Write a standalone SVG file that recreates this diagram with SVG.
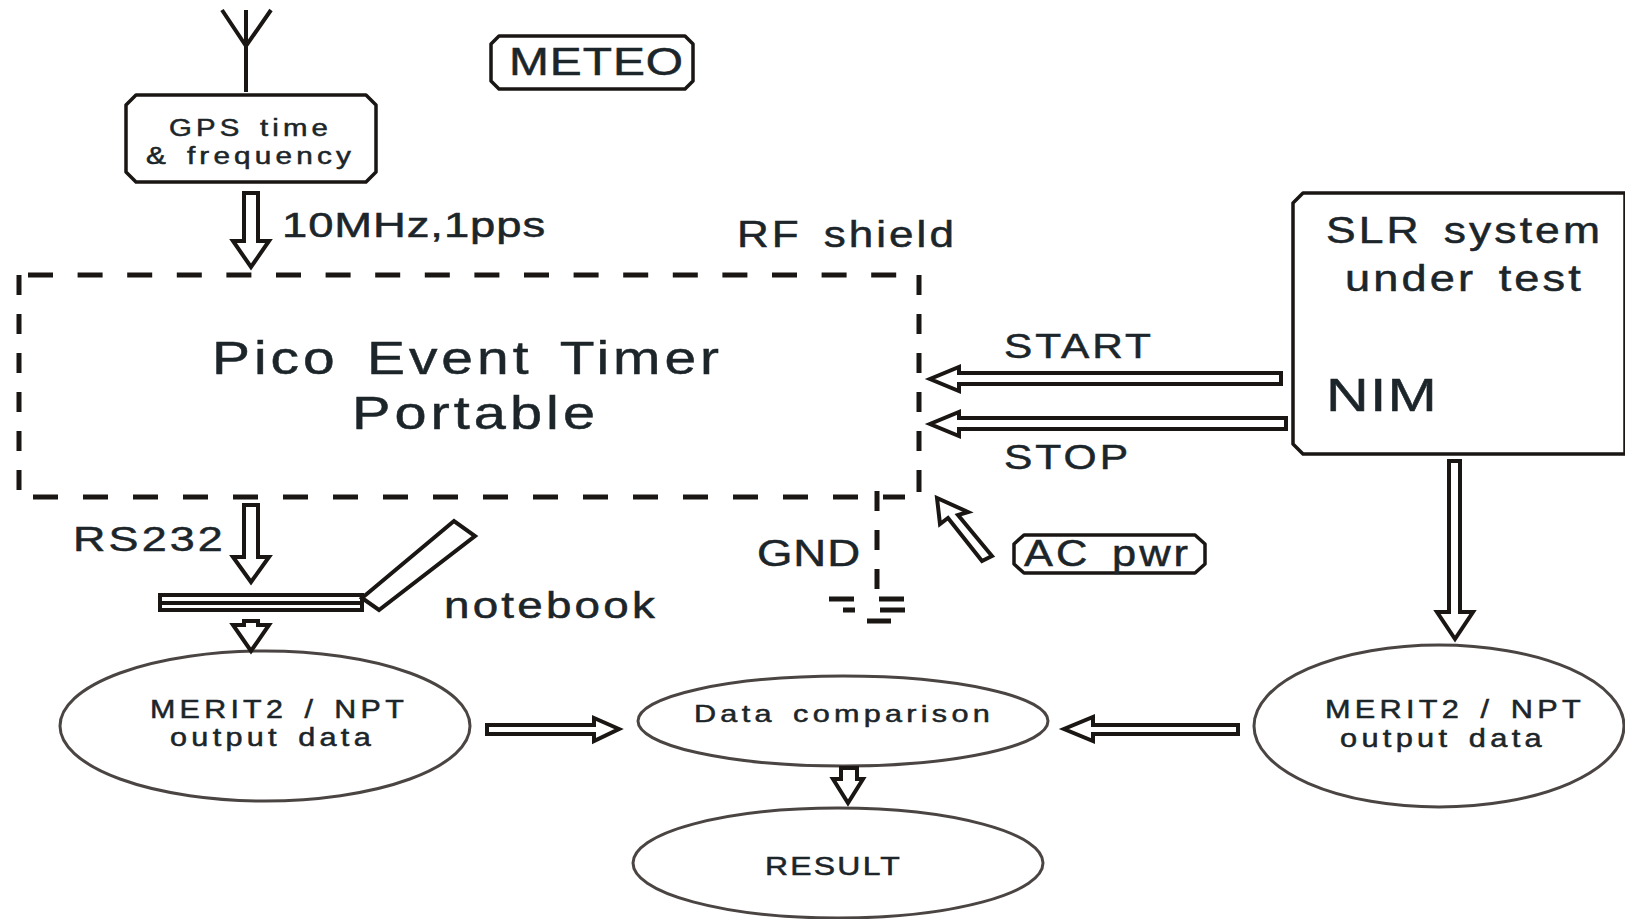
<svg xmlns="http://www.w3.org/2000/svg" width="1625" height="919" viewBox="0 0 1625 919">
<style>
.l{fill:#fff;stroke:#1a1614;stroke-width:4;stroke-linejoin:miter}
.b{fill:#fff;stroke:#1a1614;stroke-width:3.5;stroke-linejoin:round}
.e{fill:#fff;stroke:#4a4543;stroke-width:3}
.s{fill:none;stroke:#1a1614;stroke-width:4}
.d{fill:none;stroke:#1a1614;stroke-width:5}
text{font-family:"Liberation Sans",Arial,sans-serif;fill:#1c2529;stroke:#1c2529;stroke-width:.5;letter-spacing:.07em;word-spacing:.15em}
.w{letter-spacing:.14em;word-spacing:.15em}
.t{letter-spacing:.02em}
</style>
<rect width="1625" height="919" fill="#fff"/>
<g id="rf-shield">
<path class="d" d="M28 275H919" stroke-dasharray="25 24.6"/>
<path class="d" d="M33 497H905" stroke-dasharray="25 25"/>
<path class="d" d="M19 295V275M19 314V334M19 353V373M19 392V412M19 431V451M19 470V490"/>
<path class="d" d="M919 275V295M919 314V334M919 353V373M919 392V412M919 431V451M919 470V492"/>
<text x="737" y="247" font-size="36" textLength="220" lengthAdjust="spacingAndGlyphs">RF shield</text>
</g>
<g id="antenna"><path class="s" d="M246 10V92M222 10L246 46L271 10"/></g>
<g id="gps">
<path class="b" d="M136 95H366L376 105V172L366 182H136L126 172V105Z"/>
<text class="w" x="169" y="136" font-size="23" textLength="163" lengthAdjust="spacingAndGlyphs">GPS time</text>
<text class="w" x="146" y="164" font-size="23" textLength="209" lengthAdjust="spacingAndGlyphs">&amp; frequency</text>
</g>
<g id="meteo">
<path class="b" d="M499 36H685L693 44V81L685 89H499L491 81V44Z"/>
<text class="t" x="509" y="75" font-size="38" textLength="175" lengthAdjust="spacingAndGlyphs">METEO</text>
</g>
<g id="timer">
<text x="212" y="374" font-size="47" textLength="511" lengthAdjust="spacingAndGlyphs">Pico Event Timer</text>
<text x="352" y="429" font-size="47" textLength="247" lengthAdjust="spacingAndGlyphs">Portable</text>
</g>
<g id="slr">
<path class="b" d="M1303 193H1625V454H1303L1293 444V203Z"/>
<text x="1326" y="243" font-size="36" textLength="277" lengthAdjust="spacingAndGlyphs">SLR system</text>
<text x="1345" y="291" font-size="36" textLength="239" lengthAdjust="spacingAndGlyphs">under test</text>
<text class="t" x="1326" y="411" font-size="47" textLength="112" lengthAdjust="spacingAndGlyphs">NIM</text>
</g>
<g id="ac-pwr">
<path class="b" d="M1024 535H1195L1205 544V564L1195 573H1024L1014 564V544Z"/>
<text x="1024" y="566" font-size="37" textLength="167" lengthAdjust="spacingAndGlyphs">AC pwr</text>
</g>
<g id="notebook">
<rect class="l" x="160" y="595" width="202" height="15"/>
<path class="s" d="M160 603H362"/>
<path class="l" d="M362 598L454 521L475 536L379 610Z"/>
<text x="444" y="618" font-size="36" textLength="214" lengthAdjust="spacingAndGlyphs">notebook</text>
</g>
<g id="ground">
<path class="d" d="M877 491V511M877 530V550M877 569V589M829 599H854M879 599H904M843 610H855M880 610H905M867 621H891"/>
<text class="t" x="757" y="566" font-size="37" textLength="104" lengthAdjust="spacingAndGlyphs">GND</text>
</g>
<g id="merit-left">
<ellipse class="e" cx="265" cy="726" rx="205" ry="75"/>
<text class="w" x="150" y="718" font-size="25" textLength="258" lengthAdjust="spacingAndGlyphs">MERIT2 / NPT</text>
<text class="w" x="170" y="746" font-size="25" textLength="205" lengthAdjust="spacingAndGlyphs">output data</text>
</g>
<g id="comparison">
<ellipse class="e" cx="843" cy="721" rx="205" ry="45"/>
<text class="w" x="694" y="722" font-size="24" textLength="300" lengthAdjust="spacingAndGlyphs">Data comparison</text>
</g>
<g id="result">
<ellipse class="e" cx="838" cy="863" rx="205" ry="55"/>
<text x="765" y="875" font-size="25" textLength="137" lengthAdjust="spacingAndGlyphs">RESULT</text>
</g>
<g id="merit-right">
<ellipse class="e" cx="1439" cy="726" rx="185" ry="81"/>
<text class="w" x="1325" y="718" font-size="25" textLength="260" lengthAdjust="spacingAndGlyphs">MERIT2 / NPT</text>
<text class="w" x="1340" y="747" font-size="25" textLength="206" lengthAdjust="spacingAndGlyphs">output data</text>
</g>
<g id="connectors">
<path class="l" d="M244 193H258V241H269L251 267L233 241H244Z"/>
<text class="t" x="282" y="237" font-size="35" textLength="264" lengthAdjust="spacingAndGlyphs">10MHz,1pps</text>
<path class="l" d="M244 505H258V557H269L251 582L233 557H244Z"/>
<text x="73" y="551" font-size="35" textLength="153" lengthAdjust="spacingAndGlyphs">RS232</text>
<path class="l" d="M244 621H258V625H269L251 651L233 625H244Z"/>
<path class="l" d="M1281 373V384H959V391L930 379L959 367V373Z"/>
<text x="1004" y="358" font-size="35" textLength="150" lengthAdjust="spacingAndGlyphs">START</text>
<path class="l" d="M1286 418V429H959V436L930 424L959 412V418Z"/>
<text x="1004" y="469" font-size="35" textLength="127" lengthAdjust="spacingAndGlyphs">STOP</text>
<path class="l" d="M1449 461H1460V612H1473L1455 639L1437 612H1449Z"/>
<path class="l" d="M487 725H594V718L619 729L594 741V734H487Z"/>
<path class="l" d="M1238 725V734H1093V741L1064 729L1093 717V725Z"/>
<path class="l" d="M841 768H857V779H863L848 803L833 779H841Z"/>
<path class="l" d="M992 556L982 561L948 518L940 524L937 498L968 512L958 515Z"/>
</g>
</svg>
